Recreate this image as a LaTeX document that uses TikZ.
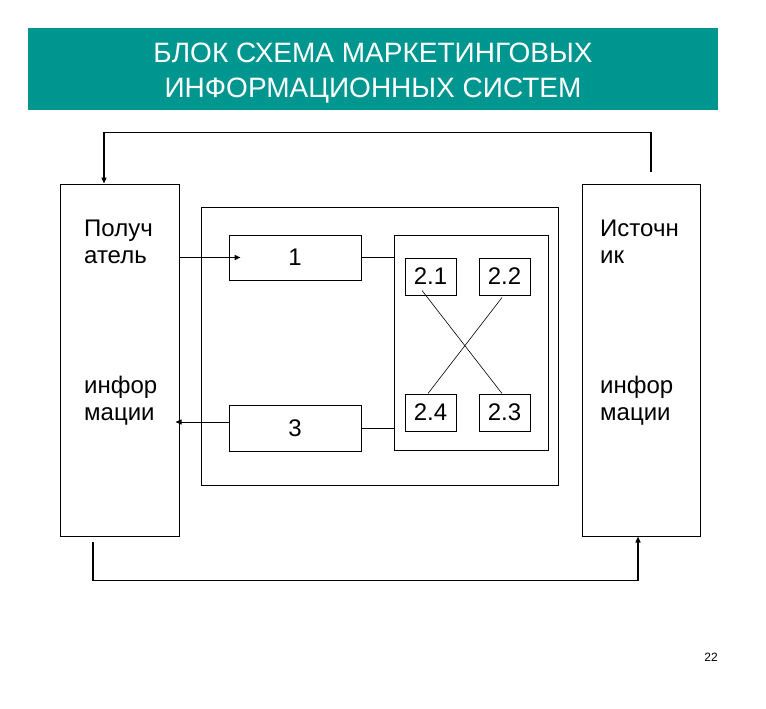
\documentclass[tikz,border=0pt]{standalone}
\usepackage{fontspec}
\setmainfont{Liberation Sans}
\usetikzlibrary{arrows.meta,calc}
\definecolor{banner}{RGB}{0,150,144}
\begin{document}
\begin{tikzpicture}[x=1pt,y=-1pt,
  box/.style={draw=black,line width=1pt,inner sep=0pt,fill=white},
  sbox/.style={draw=black,line width=1pt,inner sep=0pt,font=\fontsize{24}{24}\selectfont},
  txt/.style={inner sep=0pt,anchor=base west,font=\fontsize{24}{24}\selectfont},
  ttl/.style={inner sep=0pt,anchor=base,text=white,font=\fontsize{28}{28}\selectfont},
  conn/.style={draw=black,line width=1.4pt},
  thin/.style={draw=black,line width=0.8pt},
  tip/.style={-{Triangle[length=6pt,width=5pt]}}]
\useasboundingbox (0,0) rectangle (766,709);
% banner
\fill[banner] (28,28) rectangle (718,110);
\node[ttl] (t1) at (373,63) {БЛОК СХЕМА МАРКЕТИНГОВЫХ};
\node[ttl] (t2) at (373,97) {ИНФОРМАЦИОННЫХ СИСТЕМ};
% main boxes
\node[box,minimum width=119pt,minimum height=352pt] (lbox) at (119.5,360) {};
\node[box,minimum width=118pt,minimum height=352pt] (rbox) at (641,360) {};
\node[box,minimum width=357pt,minimum height=278pt] (mid) at (379.5,346) {};
\node[box,minimum width=154pt,minimum height=215pt] (inner) at (471,342.5) {};
\node[sbox,minimum width=132pt,minimum height=45pt] (b1) at (295,257.5) {1};
\node[sbox,minimum width=132pt,minimum height=46pt] (b3) at (295,428) {3};
\node[sbox,minimum width=51pt,minimum height=37pt] (n21) at (430.5,276.5) {2.1};
\node[sbox,minimum width=51pt,minimum height=37pt] (n22) at (504.5,276.5) {2.2};
\node[sbox,minimum width=51pt,minimum height=37pt] (n24) at (430.5,412.5) {2.4};
\node[sbox,minimum width=51pt,minimum height=37pt] (n23) at (504.5,412.5) {2.3};
% texts in side boxes
\node[txt] (l1) at (84,236) {Получ};
\node[txt] (l2) at (84,263) {атель};
\node[txt] (l3) at (84,393) {инфор};
\node[txt] (l4) at (84,420) {мации};
\node[txt] (r1) at (600,236) {Источн};
\node[txt] (r2) at (600,263) {ик};
\node[txt] (r3) at (600,393) {инфор};
\node[txt] (r4) at (600,420) {мации};
% page number
\node[inner sep=0pt,font=\fontsize{12}{12}\selectfont] (pg) at (711,657) {22};
% connectors
\draw[thin] (b1.east) -- (b1.east -| inner.west);
\draw[thin] (b3.east) -- (b3.east -| inner.west);
\draw[thin,line width=0.6pt] ([xshift=-8.5pt,yshift=5pt]n21.south) -- ([xshift=-2.5pt]n23.north);
\draw[thin,line width=0.6pt] ([xshift=-2.5pt,yshift=-2pt]n22.south) -- ([xshift=-2.5pt]n24.north);
\draw[conn,tip] (lbox.east |- b1.west) -- ([xshift=12pt]b1.west);
\draw[thin,tip] ([yshift=6pt]b3.west) -- ([xshift=-4pt,yshift=6pt]lbox.east |- b3.west);
\coordinate (ts) at ([xshift=10pt,yshift=12pt]rbox.north);
\draw[conn,tip] (ts) -- ++(0,-39) -| ([xshift=-15.5pt]lbox.north);
\coordinate (bs) at ([xshift=-26.5pt,yshift=-5pt]lbox.south);
\draw[conn,tip] (bs) -- ++(0,39) -| ([xshift=-3pt]rbox.south);
\end{tikzpicture}
\end{document}
